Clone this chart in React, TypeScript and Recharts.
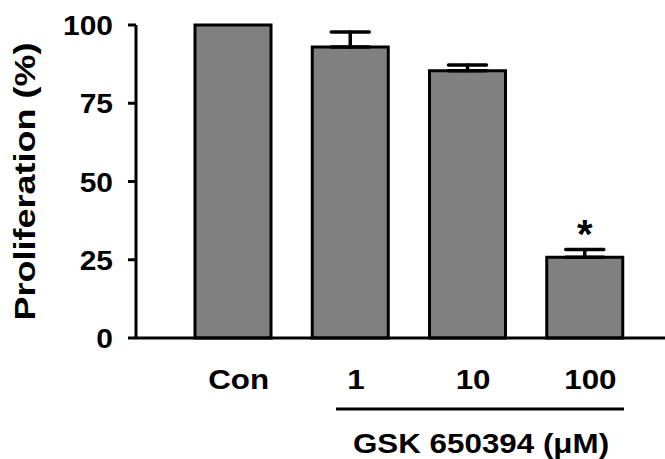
import React from 'react';
import { BarChart, Bar, XAxis, YAxis, ErrorBar, LabelList, Label } from 'recharts';

const categories = ['Con', '1', '10', '100'];
const proliferation = [100, 93, 85.4, 25.8];
const sem: (number | null)[] = [null, 4.8, 1.8, 2.5];
const significance = ['', '', '', '*'];
const yTicks = [0, 25, 50, 75, 100];
const yLabel = 'Proliferation (%)';
const xLabel = 'GSK 650394 (\u03bcM)';

const data = categories.map((c, i) => ({
  name: c,
  value: proliferation[i],
  err: sem[i] == null ? null : [0, sem[i]],
  sig: significance[i],
}));

const FONT = '"Liberation Sans", Arial, Helvetica, sans-serif';

const YTick = (props: any) => {
  const { x, y, payload } = props;
  return (
    <text
      transform={`translate(${x},${y}) scale(1.07,1)`}
      textAnchor="end"
      dy="0.36em"
      fontFamily={FONT}
      fontWeight="bold"
      fontSize={28}
      fill="#000"
    >
      {payload.value}
    </text>
  );
};

const XTick = (props: any) => {
  const { x, y, payload } = props;
  return (
    <text
      transform={`translate(${x + 6},${y}) scale(1.12,1)`}
      textAnchor="middle"
      fontFamily={FONT}
      fontWeight="bold"
      fontSize={28}
      fill="#000"
    >
      {payload.value}
    </text>
  );
};

const XAxisTitle = (props: any) => {
  const vb = props.viewBox || { x: 0, y: 0, width: 0, height: 0 };
  return (
    <g>
      <line x1={vb.x + 200} x2={vb.x + 488} y1={vb.y + 71} y2={vb.y + 71} stroke="#000" strokeWidth={3} />
      <text
        transform={`translate(${vb.x + 345},${vb.y + 115}) scale(1.12,1)`}
        textAnchor="middle"
        fontFamily={FONT}
        fontWeight="bold"
        fontSize={28}
        fill="#000"
      >
        {xLabel}
      </text>
    </g>
  );
};

const YAxisTitle = (props: any) => {
  const vb = props.viewBox || { x: 0, y: 0, width: 0, height: 0 };
  const cx = vb.x + 24;
  const cy = vb.y + vb.height / 2;
  return (
    <text
      transform={`translate(${cx},${cy}) rotate(-90) scale(1.2,1)`}
      textAnchor="middle"
      dy="0.355em"
      fontFamily={FONT}
      fontWeight="bold"
      fontSize={30}
      fill="#000"
    >
      {yLabel}
    </text>
  );
};

const Star = (props: any) => {
  const { x, y, width, value } = props;
  if (!value) return null;
  return (
    <text
      x={x + width / 2}
      y={y - 9}
      textAnchor="middle"
      fontFamily={FONT}
      fontWeight="bold"
      fontSize={40}
      fill="#000"
    >
      {value}
    </text>
  );
};

export default function App() {
  return (
    <div style={{ position: 'fixed', left: 0, top: 0, width: 665, height: 459, background: '#fff' }}>
      <BarChart
        width={665}
        height={459}
        data={data}
        margin={{ top: 25, right: 0, bottom: 0, left: 0 }}
      >
        <XAxis
          dataKey="name"
          height={121}
          padding={{ left: 38, right: 22 }}
          axisLine={{ stroke: '#000', strokeWidth: 3 }}
          tickLine={false}
          tickSize={0}
          tickMargin={51}
          tick={<XTick />}
          interval={0}
        >
          <Label content={<XAxisTitle />} />
        </XAxis>
        <YAxis
          width={136}
          domain={[0, 100]}
          ticks={yTicks}
          interval={0}
          axisLine={{ stroke: '#000', strokeWidth: 3 }}
          tickLine={{ stroke: '#000', strokeWidth: 3 }}
          tickSize={8}
          tickMargin={15}
          tick={<YTick />}
        >
          <Label content={<YAxisTitle />} />
        </YAxis>
        <Bar
          dataKey="value"
          fill="#808080"
          stroke="#000"
          strokeWidth={3}
          barSize={76}
          isAnimationActive={false}
        >
          <ErrorBar dataKey="err" width={19} stroke="#000" strokeWidth={3.5} strokeLinecap="round" />
          <LabelList dataKey="sig" content={<Star />} />
        </Bar>
      </BarChart>
    </div>
  );
}
